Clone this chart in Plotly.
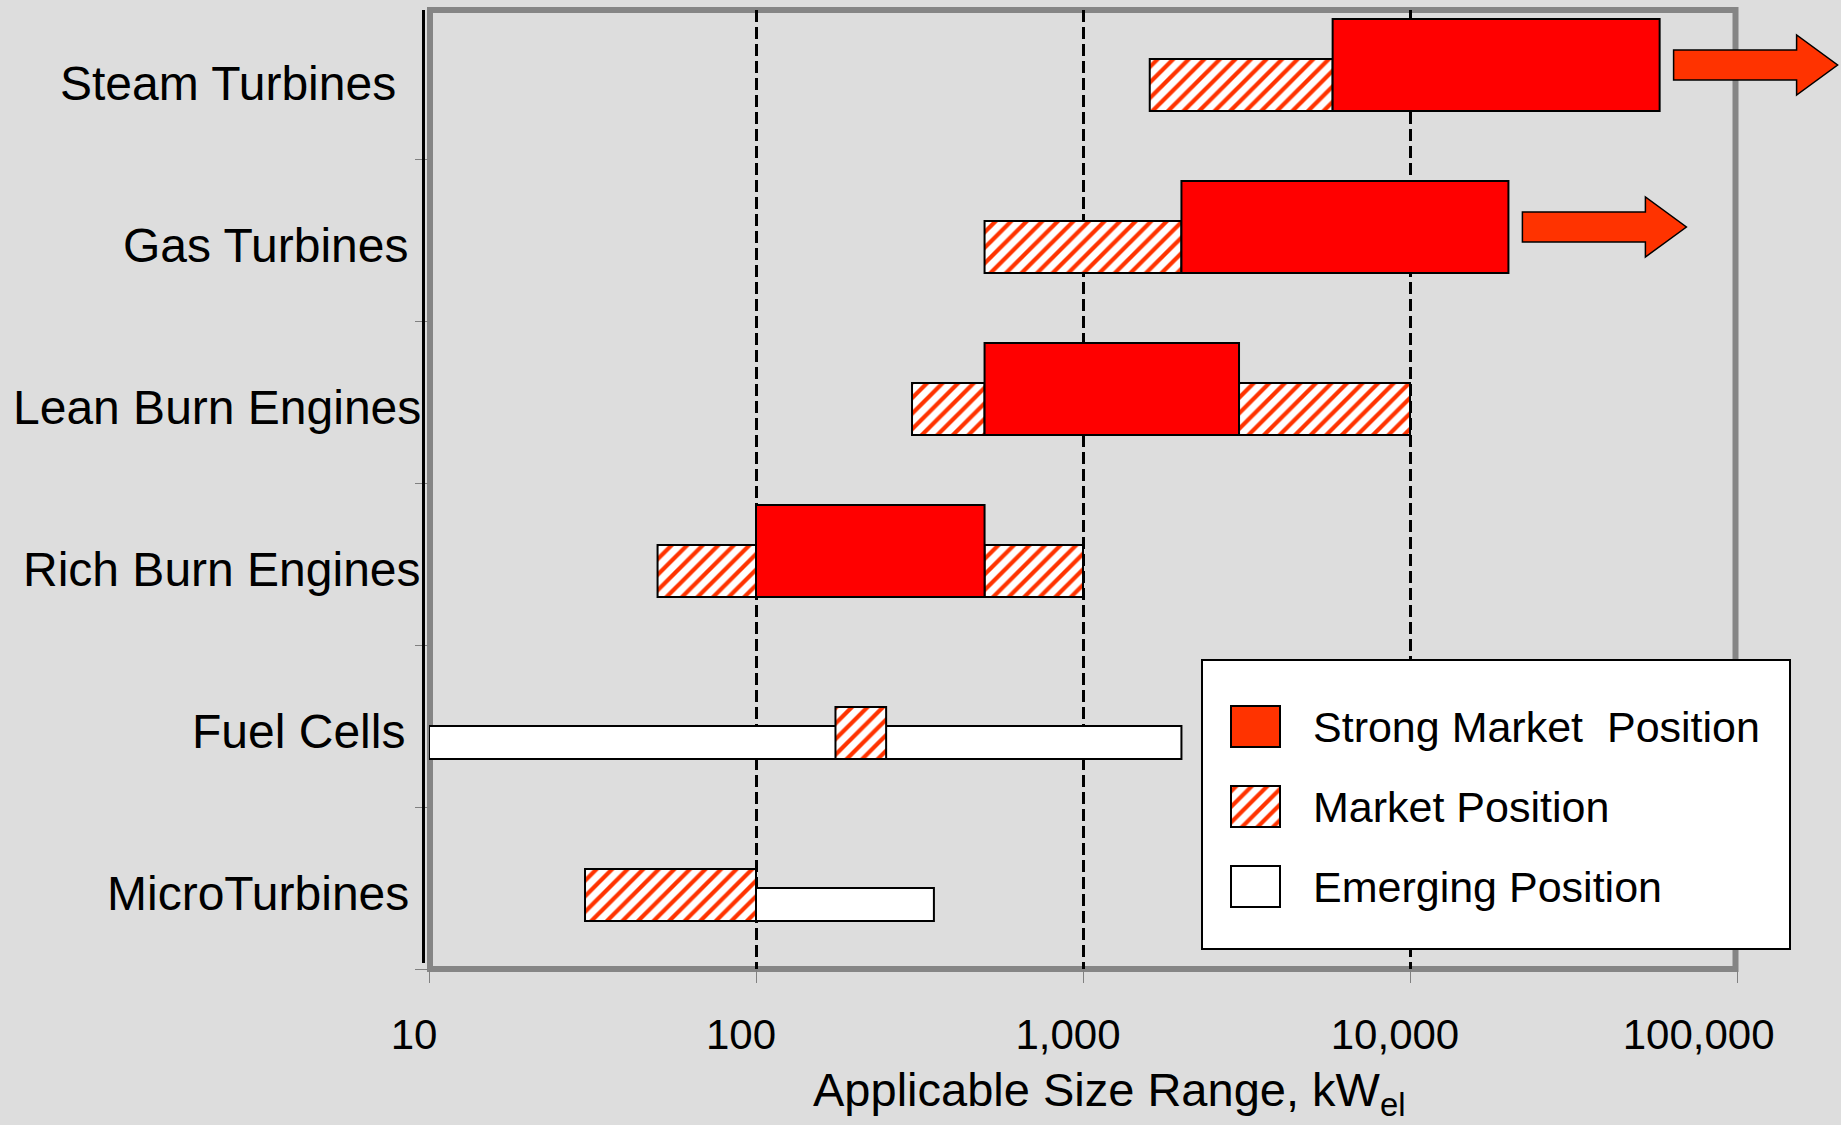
import math
import plotly.graph_objects as go

# ---------------- data ----------------
categories = ["Steam Turbines", "Gas Turbines", "Lean Burn Engines",
              "Rich Burn Engines", "Fuel Cells", "MicroTurbines"]

strong_cat = ["Steam Turbines", "Gas Turbines", "Lean Burn Engines", "Rich Burn Engines"]
strong_start = [5800, 2000, 500, 100]
strong_end = [58000, 20000, 3000, 500]

market_cat = ["Steam Turbines", "Gas Turbines", "Lean Burn Engines", "Lean Burn Engines",
              "Rich Burn Engines", "Rich Burn Engines", "Fuel Cells", "MicroTurbines"]
market_start = [1600, 500, 300, 3000, 50, 500, 175, 30]
market_end = [5800, 2000, 500, 10000, 100, 1000, 250, 100]

emerging_cat = ["Fuel Cells", "MicroTurbines"]
emerging_start = [10, 100]
emerging_end = [2000, 350]

# categories whose strong range extends beyond the chart (arrow)
arrow_cat = ["Steam Turbines", "Gas Turbines"]

x_tickvals = [10, 100, 1000, 10000, 100000]
x_ticktext = ["10", "100", "1,000", "10,000", "100,000\u00a0\u00a0\u00a0\u00a0"]
grid_vals = [100, 1000, 10000]

legend_labels = ["Strong Market\u00a0 Position", "Market Position", "Emerging Position"]
x_title = "Applicable Size Range, kW<sub>el</sub>"

# ---------------- layout constants ----------------
W, H = 1841, 1125
PL, PR, PT, PB = 429, 1737, 10, 969      # plot area in pixels
ROW = 162.0                                # pixels per category
FONT = "Liberation Sans, Arial, sans-serif"
RED = "#FF0000"
ORANGE = "#FF3300"
BG = "#DDDDDD"

N = len(categories)
ypos = {c: N - 1 - i for i, c in enumerate(categories)}
YMIN = -0.5
YMAX = YMIN + (PB - PT) / ROW

H_STRONG = 92 / ROW
H_MARKET = 52 / ROW
H_EMERG = 33 / ROW
OFF = -33 / ROW


def px_x(v):
    return PL + (math.log10(v) - 1) * (PR - PL) / 4.0


def px_y(yv):
    return PB - (yv - YMIN) * ROW


HATCH = dict(shape="/", fgcolor=ORANGE, bgcolor="white", size=11,
             solidity=0.38, fillmode="replace")
OUTLINE = dict(color="black", width=2)


def seg_trace(cats, starts, ends, height, marker):
    return go.Bar(
        orientation="h",
        y=[ypos[c] for c in cats],
        base=starts,
        x=[e - s for s, e in zip(starts, ends)],
        width=height,
        offset=OFF,
        marker=marker,
        xaxis="x", yaxis="y",
        showlegend=False, hoverinfo="skip",
    )


fig = go.Figure()
fig.add_trace(seg_trace(emerging_cat, emerging_start, emerging_end, H_EMERG,
                        dict(color="white", line=OUTLINE)))
fig.add_trace(seg_trace(market_cat, market_start, market_end, H_MARKET,
                        dict(color="white", line=OUTLINE, pattern=HATCH)))
fig.add_trace(seg_trace(strong_cat, strong_start, strong_end, H_STRONG,
                        dict(color=RED, line=OUTLINE)))
# invisible trace so the overlay tick axis (x3) is drawn
fig.add_trace(go.Scatter(x=x_tickvals, y=[YMIN] * len(x_tickvals), xaxis="x3", yaxis="y",
                         mode="markers", marker=dict(opacity=0, size=1),
                         showlegend=False, hoverinfo="skip"))

# ---------------- legend (pixel overlay axes x2/y2) ----------------
LEG_X0, LEG_X1, LEG_Y0, LEG_Y1 = 1202, 1790, 660, 949
SW_X, SW_W, SW_H = 1231, 49, 41
SW_Y = [726.5, 806.5, 886.5]
sw_markers = [dict(color=ORANGE, line=OUTLINE),
              dict(color="white", line=OUTLINE, pattern=HATCH),
              dict(color="white", line=OUTLINE)]
for yv, mk in zip(SW_Y, sw_markers):
    fig.add_trace(go.Bar(orientation="h", y=[yv], base=[SW_X], x=[SW_W], width=SW_H,
                         marker=mk, xaxis="x2", yaxis="y2",
                         showlegend=False, hoverinfo="skip"))

shapes = []
# gray frame around plot area (paper-referenced, below everything)
shapes.append(dict(type="rect", xref="paper", yref="paper",
                   x0=430 / W, x1=1735.5 / W, y0=1 - 969 / H, y1=1 - 10 / H,
                   layer="below", line=dict(color="#858585", width=6),
                   fillcolor="rgba(0,0,0,0)"))
# legend box (inside the x2y2 subplot, above the main plot)
shapes.append(dict(type="rect", xref="x2", yref="y2", x0=LEG_X0, x1=LEG_X1,
                   y0=LEG_Y0, y1=LEG_Y1, layer="below",
                   line=dict(color="black", width=2), fillcolor="white"))
# black vertical axis line left of the frame
shapes.append(dict(type="line", xref="x2", yref="y2", x0=423.5, x1=423.5, y0=10, y1=963,
                   layer="above", line=dict(color="black", width=3)))

# arrows for ranges extending beyond the axis
for c in arrow_cat:
    k = strong_cat.index(c)
    xs = px_x(strong_end[k]) + 14
    xb = xs + 123
    xt = xs + 164
    yc = px_y(ypos[c] + OFF + H_STRONG / 2)
    path = (f"M{xs:.1f},{yc-15:.1f} L{xb:.1f},{yc-15:.1f} L{xb:.1f},{yc-30:.1f} "
            f"L{xt:.1f},{yc:.1f} L{xb:.1f},{yc+30:.1f} L{xb:.1f},{yc+15:.1f} "
            f"L{xs:.1f},{yc+15:.1f} Z")
    shapes.append(dict(type="path", xref="x2", yref="y2", path=path, layer="above",
                       fillcolor=ORANGE, line=dict(color="black", width=1.5)))

annotations = []
label_right = [398, 410, 423, 423, 407, 411]
for c, xr in zip(categories, label_right):
    annotations.append(dict(text=c, xref="paper", yref="y", x=xr / W, y=ypos[c],
                            xanchor="right", yanchor="middle", yshift=-6, showarrow=False,
                            font=dict(family=FONT, size=48, color="black")))
for t, yv in zip(legend_labels, SW_Y):
    annotations.append(dict(text=t, xref="x2", yref="y2", x=1311, y=yv,
                            xanchor="left", yanchor="middle", showarrow=False,
                            font=dict(family=FONT, size=43, color="black")))
annotations.append(dict(text=x_title, xref="paper", yref="paper", x=1109 / W,
                        y=1 - 1093 / H, xanchor="center", yanchor="middle",
                        showarrow=False, font=dict(family=FONT, size=47, color="black")))

XR = [1, 5]
fig.update_layout(
    width=W, height=H,
    margin=dict(l=0, r=0, t=0, b=0, pad=0),
    paper_bgcolor=BG, plot_bgcolor="rgba(0,0,0,0)",
    barmode="overlay",
    showlegend=False,
    # main x axis: dashed grid lines only
    xaxis=dict(type="log", range=XR, domain=[PL / W, PR / W], anchor="y",
               tickmode="array", tickvals=grid_vals, ticks="", showticklabels=False,
               showgrid=True, gridcolor="black", gridwidth=3, griddash="12px,5px",
               zeroline=False, showline=False, automargin=False, fixedrange=True),
    # overlay x axis: ticks and tick labels
    xaxis3=dict(type="log", range=XR, domain=[PL / W, PR / W], anchor="y",
                overlaying="x", side="bottom",
                tickmode="array", tickvals=x_tickvals, ticktext=x_ticktext,
                ticks="outside", ticklen=13, tickwidth=1, tickcolor="#808080",
                tickfont=dict(family=FONT, size=42, color="black"),
                ticklabelshift=-15, ticklabelstandoff=16,
                showgrid=False, zeroline=False, showline=False,
                automargin=False, fixedrange=True),
    yaxis=dict(range=[YMIN, YMAX], domain=[1 - PB / H, 1 - PT / H], anchor="x",
               tickmode="array", tickvals=[i - 0.5 for i in range(N)],
               ticks="outside", ticklen=13, tickwidth=1, tickcolor="#808080",
               showticklabels=False, showgrid=False, zeroline=False, showline=False,
               automargin=False, fixedrange=True),
    xaxis2=dict(range=[0, W], domain=[0, 1], anchor="y2", visible=False, fixedrange=True),
    yaxis2=dict(range=[H, 0], domain=[0, 1], anchor="x2", visible=False, fixedrange=True),
    shapes=shapes,
    annotations=annotations,
)

fig.write_html("out.html", config={"displayModeBar": False},
               post_script="document.body.style.margin='0';document.body.style.overflow='hidden';")
